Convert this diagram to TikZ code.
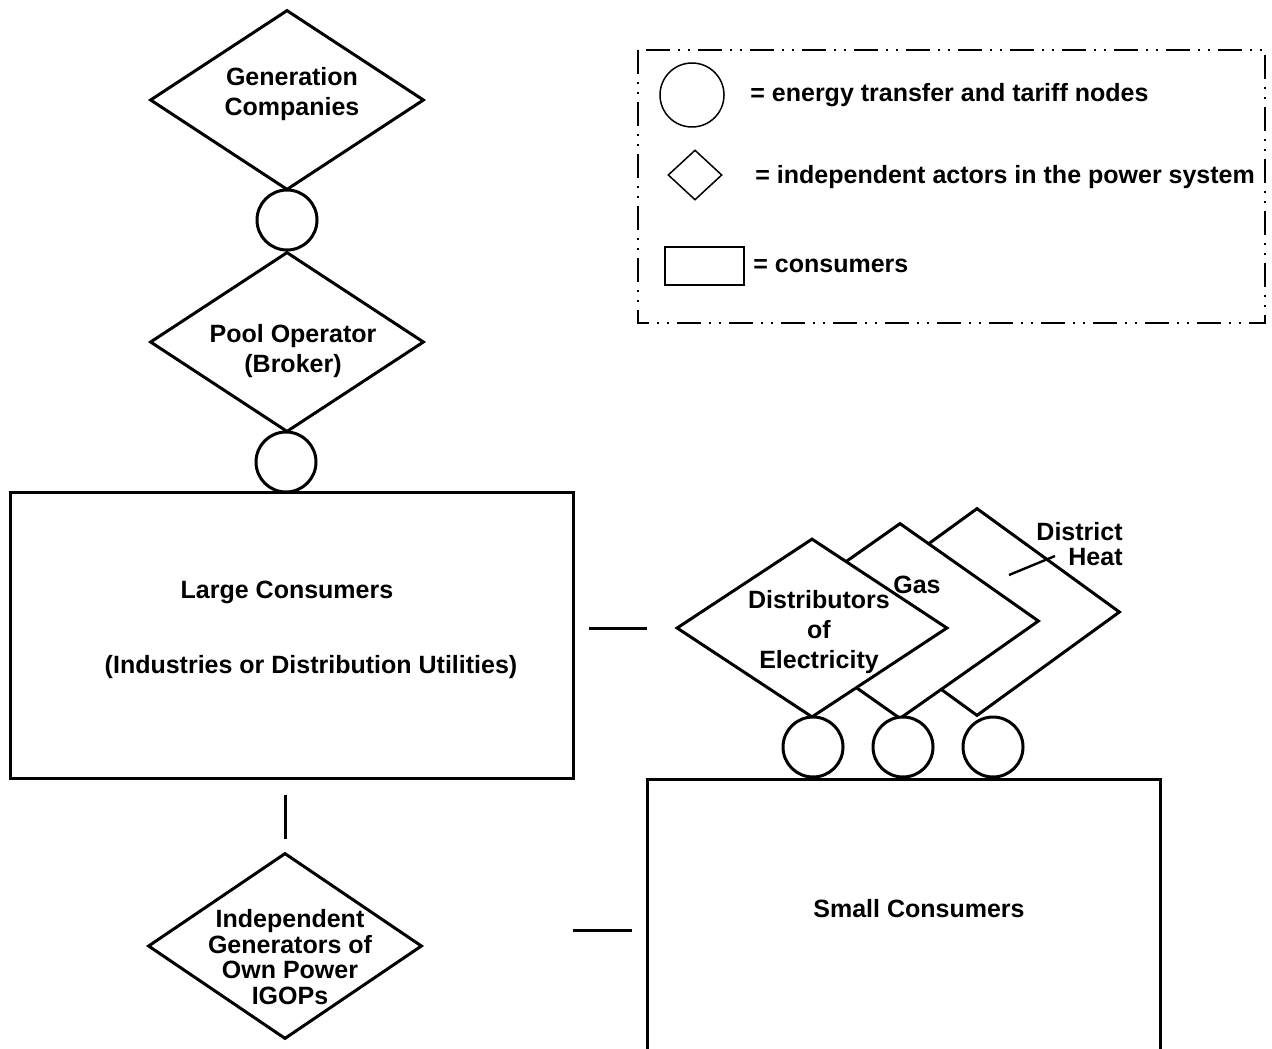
\documentclass[tikz,border=0pt]{standalone}
\usepackage{fontspec}
\setmainfont{Liberation Sans}
\usetikzlibrary{shapes.geometric}
\tikzset{
  actor/.style={diamond,draw,line width=1.5pt,fill=white,inner sep=0pt,minimum width=137pt,minimum height=90pt},
  tariff/.style={circle,draw,line width=1.5pt,fill=white,inner sep=0pt,minimum size=30pt},
  consumer/.style={rectangle,draw,line width=1.5pt,inner sep=0pt},
  txt/.style={inner sep=0pt,align=center,font=\fontsize{12.5}{15}\selectfont\bfseries},
  link/.style={line width=1.5pt},
  legbox/.style={line width=0.8pt,dash pattern=on 12pt off 4pt on 1pt off 4pt on 1pt off 4pt},
}
\begin{document}
\begin{tikzpicture}[x=0.5pt,y=0.5pt,yscale=-1]
\clip (0,0) rectangle (1272,1048);

% left column
\node[actor] (gen) at (287,100) {};
\node[tariff] (gennode) at (287,220) {};
\node[actor] (pool) at (287,342) {};
\node[tariff] (poolnode) at (286,462) {};
\node[consumer,minimum width=281.5pt,minimum height=143pt] (large) at (291.5,635) {};
\node[actor,minimum height=93pt] (igop) at (285,946) {};

% distributors, back ones first
\node[actor,minimum width=143pt,minimum height=104pt] (heat) at (977,612) {};
\node[actor,minimum width=139pt,minimum height=98pt] (gas) at (900,621) {};
\node[actor,minimum width=135.5pt,minimum height=89.5pt] (elec) at (812,628) {};
\node[tariff] (elecnode) at (813,747) {};
\node[tariff] (gasnode) at (903,747) {};
\node[tariff] (heatnode) at (993,747) {};
\node[consumer,minimum width=256.5pt,minimum height=150pt,anchor=north] (small) at (903.5,778) {};

% short links
\draw[link,shorten <=7pt,shorten >=14pt] (elec.west -| large.east) -- (elec.west);
\draw[link,shorten <=7.5pt,shorten >=6.5pt] (igop.north |- large.south) -- (igop.north);
\draw[link,shorten <=74.5pt,shorten >=7pt] (igop.east |- 0,930) -- (small.west |- 0,930);

% Text Node
\node[txt] (gentxt) at (292,94) {Generation\\Companies};
\node[txt] (pooltxt) at (293,351) {Pool Operator\\(Broker)};
\node[txt] (largetxt) at (287,592) {Large Consumers};
\node[txt] (largesub) at (311,667) {(Industries or Distribution Utilities)};
\node[txt] (electxt) at (819,632) {Distributors\\of\\Electricity};
\node[txt] (gastxt) at (917,585) {Gas};
\node[txt,align=right,anchor=north east,font=\fontsize{12.5}{12.5}\selectfont\bfseries] (heattxt) at (1123,522) {District\\Heat};
\node[txt,font=\fontsize{12.5}{12.75}\selectfont\bfseries] (igoptxt) at (290,957) {Independent\\Generators of\\Own Power\\IGOPs};
\node[txt] (smalltxt) at (919,909) {Small Consumers};

\coordinate (heatend) at (1055,556);
\coordinate (heatpt) at (1009,575);
\draw[line width=1.2pt] (heatend) -- (heatpt);

% legend
\draw[legbox] (638,50) rectangle (1265,323);
\node[tariff,line width=0.75pt,minimum size=32pt] (legnode) at (692,95) {};
\node[actor,line width=0.75pt,minimum width=27pt,minimum height=25pt] (legactor) at (695,175) {};
\node[consumer,line width=0.75pt,minimum width=39.5pt,minimum height=19pt] (legcons) at (704.5,266) {};
\node[txt,anchor=west] (legnodetxt) at (750,95) {= energy transfer and tariff nodes};
\node[txt,anchor=west] (legactortxt) at (755,177) {= independent actors in the power system};
\node[txt,anchor=west] (legconstxt) at (753,266) {= consumers};

\end{tikzpicture}
\end{document}
